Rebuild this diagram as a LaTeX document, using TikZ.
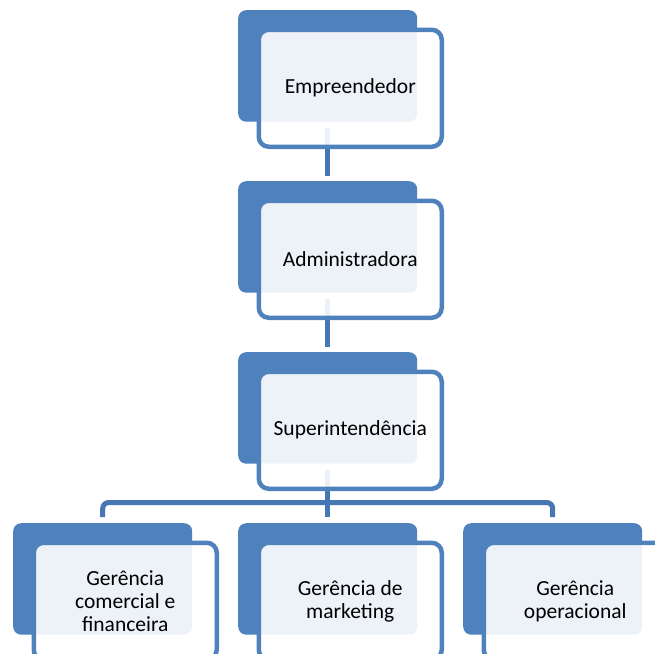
\documentclass[tikz,border=0pt]{standalone}
\usepackage{fontspec}
\setmainfont{Carlito}
\definecolor{accent}{HTML}{4F81BD}
\definecolor{conn}{HTML}{4676B3}
\pgfdeclarelayer{bg}
\pgfsetlayers{bg,main}
\begin{document}
\begin{tikzpicture}[x=1pt,y=-1pt,
  backbox/.style={fill=accent, rounded corners=8pt, minimum width=179pt, minimum height=111.5pt, inner sep=0pt, anchor=north west},
  frontbox/.style={draw=accent, line width=4.5pt, fill=white, fill opacity=0.9, text opacity=1, rounded corners=10pt, minimum width=183pt, minimum height=117pt, inner sep=0pt, anchor=north west, align=center, font=\fontsize{21.5}{23.4}\selectfont, text=black},
  connector/.style={draw=conn, line width=5pt, rounded corners=6pt}]
\useasboundingbox (0,0) rectangle (655,653);
\clip (0,0) rectangle (655,653);
% element 1
\node[backbox] (b1) at (238,10) {};
\node[frontbox] (f1) at (256.5,27.5) {Empreendedor};
% element 2
\node[backbox] (b2) at (238,181) {};
\node[frontbox] (f2) at (256.5,198.5) {Administradora};
% element 3
\node[backbox] (b3) at (238,352) {};
\node[frontbox] (f3) at (256.5,369.5) {Superintendência};
% bottom row
\node[backbox] (b4) at (13,523) {};
\node[frontbox] (f4) at (31.5,540.5) {Gerência\\comercial e\\financeira};
\node[backbox] (b5) at (238,523) {};
\node[frontbox] (f5) at (256.5,540.5) {Gerência de\\marketing};
\node[backbox] (b6) at (463,523) {};
\node[frontbox] (f6) at (481.5,540.5) {Gerência\\operacional};
\begin{pgfonlayer}{bg}
\draw[connector] ([yshift=-6.5pt]b1.south) -- ([yshift=5pt]b2.north);
\draw[connector] ([yshift=-6.5pt]b2.south) -- ([yshift=5pt]b3.north);
\draw[connector] ([yshift=-6.5pt]b3.south) -- ([yshift=6pt]b5.north);
\draw[connector] ([yshift=6pt]b4.north) -- ++(0,-14.5) -| ([yshift=6pt]b6.north);
\end{pgfonlayer}
\end{tikzpicture}
\end{document}
